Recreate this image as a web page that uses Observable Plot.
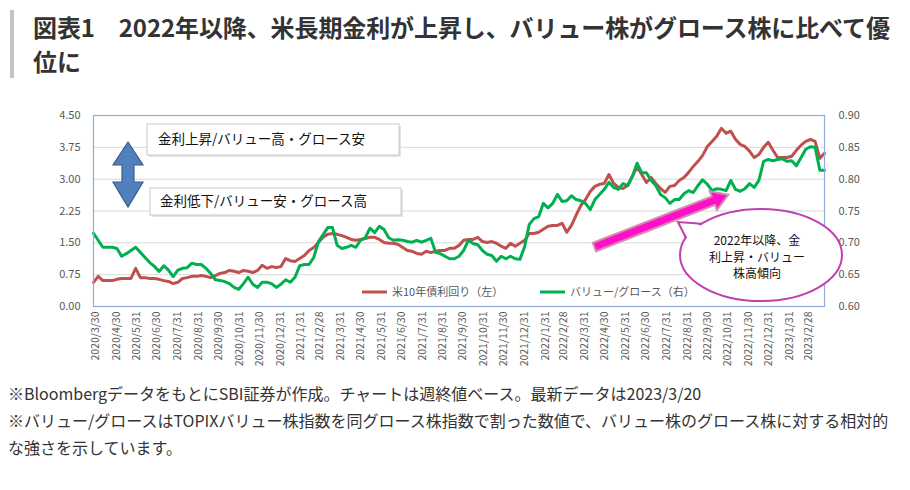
<!DOCTYPE html>
<html><head><meta charset="utf-8">
<script src="https://cdn.jsdelivr.net/npm/d3@7"></script>
<script src="https://cdn.jsdelivr.net/npm/@observablehq/plot@0.6"></script>
<style>
body{margin:0;width:910px;height:490px;position:relative;overflow:hidden;background:#fff;font-family:"Noto Sans CJK JP","Noto Sans",sans-serif;}
#title{position:absolute;left:10px;top:10px;border-left:4px solid #c4c4c4;padding-left:19px;font-weight:bold;font-size:24px;line-height:34px;color:#333;white-space:nowrap;height:68px;letter-spacing:-0.1px}
#chart{position:absolute;left:0;top:95px}
#note{position:absolute;left:8px;top:380px;font-size:16px;line-height:27px;color:#333;white-space:nowrap}
</style></head><body>
<div id="title">図表1　2022年以降、米長期金利が上昇し、バリュー株がグロース株に比べて優<br>位に</div>
<div id="chart"></div>
<div id="note">※BloombergデータをもとにSBI証券が作成。チャートは週終値ベース。最新データは2023/3/20<br>※バリュー/グロースはTOPIXバリュー株指数を同グロース株指数で割った数値で、バリュー株のグロース株に対する相対的<br>な強さを示しています。</div>
<script>
// weekly closes, first week ending 2020/3/27
const startDate = "2020-03-27";
const rate = [0.57,0.71,0.61,0.61,0.61,0.64,0.66,0.66,0.66,0.90,
0.68,0.68,0.66,0.66,0.64,0.61,0.59,0.54,0.57,0.66,
0.68,0.71,0.71,0.73,0.71,0.68,0.73,0.78,0.80,0.85,
0.83,0.80,0.85,0.83,0.80,0.85,0.97,0.90,0.94,0.92,
0.94,1.13,1.08,1.06,1.13,1.20,1.32,1.39,1.51,1.63,
1.70,1.72,1.70,1.67,1.63,1.58,1.56,1.58,1.60,1.63,
1.63,1.58,1.51,1.49,1.49,1.46,1.39,1.32,1.30,1.25,
1.23,1.30,1.27,1.30,1.32,1.32,1.37,1.37,1.44,1.56,
1.58,1.58,1.63,1.53,1.51,1.53,1.49,1.42,1.37,1.49,
1.42,1.49,1.56,1.72,1.72,1.75,1.82,1.89,1.91,1.91,
1.96,1.75,1.91,2.15,2.38,2.52,2.71,2.83,2.88,2.90,
3.11,2.90,2.81,2.78,2.85,3.07,3.28,3.11,2.92,3.04,
2.90,2.78,2.69,2.83,2.85,2.97,3.04,3.16,3.30,3.42,
3.56,3.77,3.89,4.01,4.20,4.08,4.13,3.94,3.82,3.77,
3.66,3.51,3.58,3.75,3.87,3.68,3.51,3.51,3.51,3.54,
3.68,3.80,3.89,3.94,3.89,3.49,3.61];
const ratio = [0.715,0.704,0.693,0.693,0.693,0.691,0.679,0.683,0.688,0.693,
0.685,0.677,0.669,0.663,0.655,0.664,0.657,0.647,0.657,0.660,
0.661,0.668,0.666,0.666,0.660,0.652,0.642,0.641,0.639,0.636,
0.630,0.627,0.636,0.646,0.635,0.630,0.638,0.638,0.636,0.630,
0.635,0.642,0.638,0.646,0.664,0.666,0.666,0.677,0.702,0.713,
0.724,0.724,0.696,0.691,0.693,0.696,0.693,0.704,0.708,0.723,
0.716,0.726,0.721,0.708,0.704,0.705,0.704,0.702,0.701,0.704,
0.701,0.704,0.707,0.685,0.683,0.679,0.675,0.675,0.679,0.688,
0.704,0.699,0.697,0.688,0.682,0.680,0.671,0.679,0.675,0.679,
0.675,0.674,0.694,0.729,0.738,0.741,0.762,0.755,0.762,0.776,
0.765,0.766,0.774,0.768,0.766,0.762,0.752,0.768,0.776,0.784,
0.795,0.787,0.784,0.793,0.790,0.804,0.825,0.810,0.810,0.798,
0.790,0.776,0.771,0.762,0.768,0.768,0.777,0.782,0.779,0.790,
0.799,0.792,0.782,0.785,0.784,0.782,0.798,0.784,0.781,0.785,
0.793,0.787,0.798,0.828,0.831,0.829,0.831,0.832,0.828,0.829,
0.821,0.834,0.847,0.851,0.850,0.814,0.814];
const leftTicks = [0, 0.75, 1.5, 2.25, 3, 3.75, 4.5];
const rightTicks = [0.60, 0.65, 0.70, 0.75, 0.80, 0.85, 0.90];
const xTickLabels = ["2020/3/30","2020/4/30","2020/5/31","2020/6/30","2020/7/31","2020/8/31","2020/9/30","2020/10/31","2020/11/30","2020/12/31",
"2021/1/31","2021/2/28","2021/3/31","2021/4/30","2021/5/31","2021/6/30","2021/7/31","2021/8/31","2021/9/30","2021/10/31","2021/11/30","2021/12/31",
"2022/1/31","2022/2/28","2022/3/31","2022/4/30","2022/5/31","2022/6/30","2022/7/31","2022/8/31","2022/9/30","2022/10/31","2022/11/30","2022/12/31",
"2023/1/31","2023/2/28"];
const seriesNames = ["米10年債利回り（左）", "バリュー/グロース（右）"];
const seriesColors = ["#c0504d", "#00b050"];
const boxTexts = ["金利上昇/バリュー高・グロース安", "金利低下/バリュー安・グロース高"];
const bubbleLines = ["2022年以降、金", "利上昇・バリュー", "株高傾向"];
const trendArrow = [{date: "2022-04-15", value: 1.39}, {date: "2022-11-01", value: 2.62}];

const parseYMD = s => { const [y, m, d] = s.split(/[\/-]/).map(Number); return new Date(Date.UTC(y, m - 1, d)); };
const fmtYMD = d => `${d.getUTCFullYear()}/${d.getUTCMonth() + 1}/${d.getUTCDate()}`;
const t0 = parseYMD(startDate);
const rows = rate.map((v, i) => ({date: d3.utcDay.offset(t0, 7 * i), rate: v, ratio: ratio[i]}));
const toLeft = r => (r - 0.6) * 15;
const xTicks = xTickLabels.map(parseYMD);

const chart = Plot.plot({
  width: 910, height: 285,
  marginLeft: 93, marginRight: 86, marginTop: 20, marginBottom: 74,
  style: {fontFamily: "'Noto Sans CJK JP', sans-serif", fontSize: "11px", color: "#595959", background: "transparent", overflow: "visible"},
  x: {type: "utc", domain: [rows[0].date, rows[rows.length - 1].date]},
  y: {domain: [0, 4.5]},
  marks: [
    Plot.gridY(leftTicks, {stroke: "#d9d9d9", strokeOpacity: 1}),
    Plot.axisY(leftTicks, {anchor: "left", tickSize: 0, tickPadding: 13, tickFormat: d => d.toFixed(2), label: null}),
    Plot.axisY(rightTicks.map(toLeft), {anchor: "right", tickSize: 0, tickPadding: 14, tickFormat: d => (d / 15 + 0.6).toFixed(2), label: null}),
    Plot.axisX(xTicks, {tickSize: 0, tickPadding: 5, tickRotate: -90, tickFormat: fmtYMD, label: null, fontSize: 10.5}),
    Plot.lineY(rows, {x: "date", y: "rate", stroke: seriesColors[0], strokeWidth: 3}),
    Plot.lineY(rows, {x: "date", y: d => toLeft(d.ratio), stroke: seriesColors[1], strokeWidth: 3}),
    Plot.frame({stroke: "#8faadc", strokeWidth: 1.2})
  ]
});
document.getElementById("chart").appendChild(chart);

const svg = d3.select(chart);
const sx = chart.scale("x"), sy = chart.scale("y");
const g = svg.append("g").attr("font-family", "'Noto Sans CJK JP', sans-serif").attr("text-anchor", "start");

// legend
[[362, 392], [540, 570]].forEach(([lx, tx], i) => {
  g.append("line").attr("x1", lx).attr("x2", lx + 25).attr("y1", 197).attr("y2", 197)
    .attr("stroke", seriesColors[i]).attr("stroke-width", 3);
  g.append("text").attr("x", tx).attr("y", 197).attr("dy", "0.35em").attr("font-size", 11)
    .attr("text-anchor", "start").attr("fill", "#595959").text(seriesNames[i]);
});

// text boxes
[[147, 29, 252, 31, 158], [150, 93, 251, 27, 160]].forEach(([bx, by, bw, bh, tx], i) => {
  g.append("rect").attr("x", bx + 2).attr("y", by + 2).attr("width", bw).attr("height", bh).attr("fill", "#e4e4e4");
  g.append("rect").attr("x", bx).attr("y", by).attr("width", bw).attr("height", bh)
    .attr("fill", "#fff").attr("stroke", "#c8c8c8");
  g.append("text").attr("x", tx).attr("y", by + bh / 2).attr("dy", "0.36em").attr("font-size", 13.5)
    .attr("text-anchor", "start").attr("fill", "#111").text(boxTexts[i]);
});

// blue double arrow
const cx = 128;
g.append("path").attr("d", `M${cx},47 L${cx + 15},70 L${cx + 6},70 L${cx + 6},87 L${cx + 15},87 L${cx},112 L${cx - 15},87 L${cx - 6},87 L${cx - 6},70 L${cx - 15},70 Z`)
  .attr("fill", "#4f81bd").attr("stroke", "#385d8a").attr("stroke-width", 1.2);

// magenta trend arrow
const ax0 = sx.apply(parseYMD(trendArrow[0].date)), ay0 = sy.apply(trendArrow[0].value);
const ax1 = sx.apply(parseYMD(trendArrow[1].date)), ay1 = sy.apply(trendArrow[1].value);
const L = Math.hypot(ax1 - ax0, ay1 - ay0), ux = (ax1 - ax0) / L, uy = (ay1 - ay0) / L, px = -uy, py = ux;
const sw = 4.5, hw = 10, hl = 16;
const bxp = ax1 - ux * hl, byp = ay1 - uy * hl;
const pts = [
  [ax0 + px * sw, ay0 + py * sw], [bxp + px * sw, byp + py * sw], [bxp + px * hw, byp + py * hw], [ax1, ay1],
  [bxp - px * hw, byp - py * hw], [bxp - px * sw, byp - py * sw], [ax0 - px * sw, ay0 - py * sw]
];
g.append("path").attr("d", "M" + pts.map(p => p.join(",")).join("L") + "Z")
  .attr("fill", "#ff10c8").attr("stroke", "#d48cb0").attr("stroke-width", 2);

// speech bubble
const ecx = 761, ecy = 160, erx = 81, ery = 46;
const ep = a => [ecx + erx * Math.cos(a * Math.PI / 180), ecy + ery * Math.sin(a * Math.PI / 180)];
const bubbleColor = "#c040b0";
g.append("ellipse").attr("cx", ecx).attr("cy", ecy).attr("rx", erx).attr("ry", ery)
  .attr("fill", "#fff").attr("stroke", bubbleColor).attr("stroke-width", 2);
const b1 = ep(202), b2 = ep(223), tip = [678, 127];
g.append("path").attr("d", `M${b1[0] + 2},${b1[1] + 1}L${tip[0]},${tip[1]}L${b2[0] + 1},${b2[1] + 2}Z`).attr("fill", "#fff");
g.append("path").attr("d", `M${b1[0]},${b1[1]}L${tip[0]},${tip[1]}L${b2[0]},${b2[1]}`)
  .attr("fill", "none").attr("stroke", bubbleColor).attr("stroke-width", 2);
bubbleLines.forEach((t, i) => {
  g.append("text").attr("x", 757).attr("y", 146 + i * 16.5).attr("dy", "0.36em").attr("text-anchor", "middle")
    .attr("font-size", 12).attr("fill", "#111").text(t);
});
</script>
</body></html>
